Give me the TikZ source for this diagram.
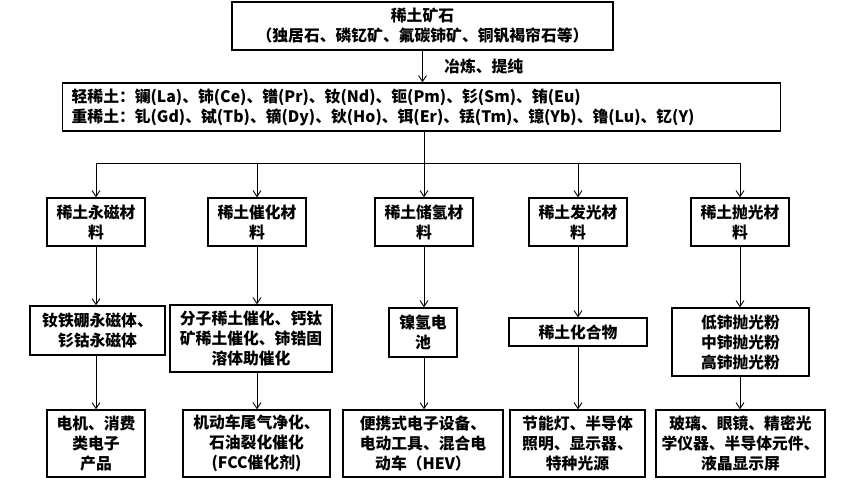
\documentclass[tikz,border=0pt]{standalone}
\usepackage{fontspec}
\setmainfont{Noto Sans CJK SC}
\usepackage{tikz}
\usetikzlibrary{arrows.meta}
\tikzset{
    common/.style={draw, rectangle, line width=1.3pt, align=center, inner sep=2pt,
        font=\fontsize{15.8}{20}\selectfont\bfseries},
    mat/.style={common, minimum width=98pt, minimum height=48pt},
    prod/.style={common, minimum height=49pt},
    use/.style={common, minimum height=67pt},
    link/.style={-{Straight Barb[length=6pt, width=8pt]}, line width=0.9pt},
}

\begin{document}
\begin{tikzpicture}[x=1pt, y=-1pt]
    \useasboundingbox (0,0) rectangle (865,499);

    % ore and elements
    \node[common, minimum width=381pt, minimum height=48pt] (ore) at (422.5,26)
        {稀土矿石\\（独居石、磷钇矿、氟碳铈矿、铜钒褐帘石等）};
    \node[common, anchor=west, text width=700pt, align=left, inner xsep=9pt, minimum height=48pt] (elem) at (62,107)
        {轻稀土：镧(La)、铈(Ce)、镨(Pr)、钕(Nd)、钷(Pm)、钐(Sm)、铕(Eu)\\
         重稀土：钆(Gd)、铽(Tb)、镝(Dy)、钬(Ho)、铒(Er)、铥(Tm)、镱(Yb)、镥(Lu)、钇(Y)};
    \draw[link] (ore.south) -- node[right=18pt, font=\fontsize{15.8}{20}\selectfont\bfseries] {冶炼、提纯} (ore.south |- elem.north);

    % materials
    \node[mat] (mag) at (96,222)  {稀土永磁材\\料};
    \node[mat] (cat) at (257,222) {稀土催化材\\料};
    \node[mat] (hyd) at (424,222) {稀土储氢材\\料};
    \node[mat] (lum) at (578,222) {稀土发光材\\料};
    \node[mat] (pol) at (740,222) {稀土抛光材\\料};

    % products
    \node[prod, minimum width=135pt] (magP) at (97.5,330.5) {钕铁硼永磁体、\\钐钴永磁体};
    \node[common, minimum width=162pt, minimum height=67pt] (catP) at (251,338.5) {分子稀土催化、钙钛\\矿稀土催化、铈锆固\\溶体助催化};
    \node[prod, minimum width=68pt] (hydP) at (423,332.5) {镍氢电\\池};
    \node[common, minimum width=138pt, minimum height=28pt] (lumP) at (578,332) {稀土化合物};
    \node[common, minimum width=137pt, minimum height=68pt] (polP) at (740.5,342) {低铈抛光粉\\中铈抛光粉\\高铈抛光粉};

    % uses
    \node[use, minimum width=98pt]  (magU) at (96,443.5)    {电机、消费\\类电子\\产品};
    \node[use, minimum width=147pt] (catU) at (256.5,443.5) {机动车尾气净化、\\石油裂化催化\\(FCC催化剂)};
    \node[use, minimum width=160pt] (hydU) at (423,443.5)   {便携式电子设备、\\电动工具、混合电\\动车（HEV）};
    \node[use, minimum width=135pt] (lumU) at (577.5,443.5) {节能灯、半导体\\照明、显示器、\\特种光源};
    \node[use, minimum width=169pt] (polU) at (740.5,443.5) {玻璃、眼镜、精密光\\学仪器、半导体元件、\\液晶显示屏};

    % connectors
    \coordinate (bus) at (424,163);
    \draw[line width=0.9pt] (elem.south -| bus) -- (bus);
    \draw[line width=0.9pt] (mag |- bus) -- (pol |- bus);
    \foreach \m/\p/\u in {mag/magP/magU, cat/catP/catU, hyd/hydP/hydU, lum/lumP/lumU, pol/polP/polU} {
        \draw[link] (\m |- bus) -- (\m.north);
        \draw[link] (\m.south) -- (\m.south |- \p.north);
        \draw[link] (\m |- \p.south) -- (\m |- \u.north);
    }
\end{tikzpicture}
\end{document}
